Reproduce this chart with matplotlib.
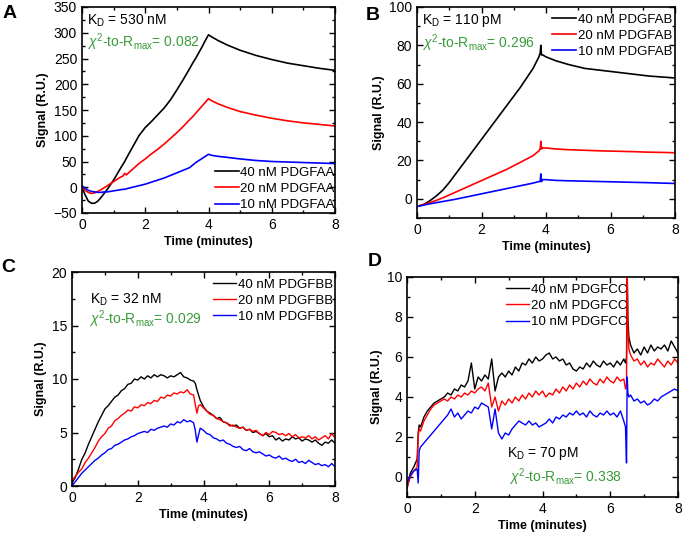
import matplotlib
matplotlib.use("Agg")
import matplotlib.pyplot as plt
from matplotlib.ticker import MultipleLocator

plt.rcParams['font.family'] = ['Liberation Sans', 'DejaVu Sans']
plt.rcParams['mathtext.fontset'] = 'custom'
plt.rcParams['mathtext.rm'] = 'Liberation Sans'
plt.rcParams['mathtext.it'] = 'Liberation Sans:italic'
plt.rcParams['mathtext.bf'] = 'Liberation Sans:bold'

# ---------------- Panel A data ----------------
tA = [0, 0.1, 0.2, 0.3, 0.4, 0.5, 0.6, 0.7, 0.8, 0.9, 1.0, 1.2, 1.3, 1.35, 1.4, 1.6, 1.8, 2.0, 2.2, 2.4,
      2.6, 2.8, 3.0, 3.2, 3.4, 3.5, 3.6, 3.8, 3.9, 4.0, 4.1, 4.3, 4.6, 5.0, 5.5, 6.0, 6.5, 7.0, 7.5, 8.0]
A40 = [0, -15, -27, -31, -31, -27, -20, -12, -4, 5, 14, 35, 45, 50, 56, 78, 100, 116, 128, 141,
       154, 170, 189, 209, 230, 241, 251, 273, 285, 296, 292, 285, 276, 266, 256, 248, 241, 236, 231, 227]
A20 = [0, -6, -10, -12, -11, -8, -5, -1, 3, 7, 11, 19, 22, 27, 24, 35, 46, 55, 65, 74,
       84, 95, 106, 118, 131, 137, 144, 158, 165, 172, 168, 162, 155, 147, 140, 134, 129, 125, 122, 119]
A10 = [3, -2, -6, -8, -9, -10, -10, -9, -9, -8, -7, -5, -4, -4, -3, 0, 3, 6, 10, 14,
       18, 23, 28, 33, 38, 43, 48, 56, 60, 64, 62, 60, 58, 55, 52, 50, 49, 48, 47, 46]
labelsA = ['40 nM PDGFAA', '20 nM PDGFAA', '10 nM PDGFAA']

# ---------------- Panel B data ----------------
tB = [0, 0.2, 0.4, 0.6, 0.8, 1.0, 1.2, 1.4, 1.6, 1.8, 2.0, 2.4, 2.8, 3.2, 3.6, 3.78, 3.82, 3.84, 3.86, 3.9,
      4.0, 4.3, 4.7, 5.2, 5.7, 6.2, 6.7, 7.2, 7.6, 8.0]
B40 = [-4, -3, -1, 1.5, 4.5, 8.5, 13, 17.5, 22, 26.5, 31, 40, 49, 58, 68, 74, 76, 80, 75, 75,
       74, 72, 70, 68, 67, 66, 65, 64, 63.5, 63]
B20 = [-4, -3, -2, -0.8, 0.5, 2, 3.5, 5, 6.5, 8, 9.5, 12.5, 15.5, 19, 22.5, 25, 26, 30, 26, 26.5,
       26.5, 26, 25.6, 25.3, 25, 24.8, 24.6, 24.3, 24.2, 24]
B10 = [-4, -3.3, -2.6, -2, -1.4, -0.8, -0.2, 0.5, 1.2, 1.9, 2.6, 4, 5.4, 6.8, 8.2, 9, 9, 13, 9, 10,
       10, 9.6, 9.4, 9.2, 9, 8.8, 8.6, 8.4, 8.2, 8]
labelsB = ['40 nM PDGFAB', '20 nM PDGFAB', '10 nM PDGFAB']

# ---------------- Panel C data ----------------
tC = [0.0, 0.1, 0.2, 0.3, 0.4, 0.5, 0.6, 0.7, 0.8, 0.9, 1.0, 1.1, 1.2, 1.3, 1.4, 1.5, 1.6, 1.7, 1.8, 1.9,
      2.0, 2.1, 2.2, 2.3, 2.4, 2.5, 2.6, 2.7, 2.8, 2.9, 3.0, 3.1, 3.2, 3.3, 3.4, 3.5, 3.6, 3.7, 3.75, 3.8,
      3.85, 3.9, 4.0, 4.1, 4.2, 4.3, 4.4, 4.5, 4.6, 4.7, 4.8, 4.9, 5.0, 5.1, 5.2, 5.3, 5.4, 5.5, 5.6, 5.7,
      5.8, 5.9, 6.0, 6.1, 6.2, 6.3, 6.4, 6.5, 6.6, 6.7, 6.8, 6.9, 7.0, 7.1, 7.2, 7.3, 7.4, 7.5, 7.6, 7.7,
      7.8, 7.9, 8.0]
C40 = [0.3, 0.8, 1.6, 2.5, 3.1, 3.9, 4.6, 5.3, 6.0, 6.6, 7.2, 7.5, 7.9, 8.3, 8.5, 8.9, 9.1, 9.5, 9.6, 10.0,
       9.9, 10.2, 10.0, 10.3, 10.1, 10.4, 10.2, 10.4, 10.3, 10.1, 10.3, 10.2, 10.4, 10.6, 10.2, 10.1, 9.9, 9.8, 9.6, 9.0,
       8.5, 8.0, 7.4, 7.0, 6.8, 6.6, 6.3, 6.4, 6.0, 5.9, 5.7, 5.6, 5.7, 5.4, 5.5, 5.2, 5.3, 5.0, 5.1, 4.9,
       4.7, 4.9, 4.6, 4.7, 4.3, 4.5, 4.2, 4.4, 4.3, 4.6, 4.4, 4.5, 4.2, 4.4, 4.3, 4.1, 4.3, 4.0, 3.8, 4.1,
       4.0, 4.3, 4.0]
C20 = [0.5, 0.9, 1.3, 1.6, 2.2, 2.6, 3.1, 3.6, 4.2, 4.6, 4.9, 5.4, 5.6, 6.1, 6.3, 6.6, 6.8, 7.1, 7.0, 7.4,
       7.3, 7.6, 7.5, 7.8, 7.7, 8.0, 7.9, 8.3, 8.2, 8.5, 8.4, 8.7, 8.6, 8.8, 8.7, 9.0, 8.6, 8.5, 7.6, 6.8,
       7.5, 7.6, 7.3, 7.0, 6.7, 6.6, 6.3, 6.2, 6.0, 5.9, 5.6, 5.7, 5.5, 5.4, 5.5, 5.2, 5.3, 5.1, 5.2, 4.9,
       4.7, 5.0, 4.8, 5.1, 5.0, 4.8, 4.9, 4.7, 4.9, 4.6, 4.8, 4.5, 4.6, 4.5, 4.7, 4.4, 4.6, 4.3, 4.5, 4.7,
       4.4, 4.9, 4.5]
C10 = [0.0, 0.4, 0.8, 1.2, 1.5, 1.8, 2.1, 2.4, 2.6, 2.9, 3.1, 3.4, 3.5, 3.8, 3.9, 4.1, 4.3, 4.4, 4.6, 4.7,
       4.9, 5.0, 5.1, 5.0, 5.3, 5.2, 5.4, 5.5, 5.6, 5.5, 5.8, 5.7, 6.0, 5.9, 6.2, 6.0, 6.1, 5.9, 5.2, 4.1,
       4.8, 5.4, 5.2, 4.9, 4.8, 4.5, 4.4, 4.2, 4.3, 4.0, 3.9, 3.7, 3.6, 3.7, 3.4, 3.3, 3.5, 3.2, 3.1, 3.2,
       3.0, 2.8, 2.9, 2.7, 2.6, 2.8, 2.5, 2.6, 2.4, 2.3, 2.5, 2.2, 2.3, 2.1, 2.4, 2.2, 2.0, 2.1, 1.9, 2.0,
       1.8, 2.1, 1.8]
labelsC = ['40 nM PDGFBB', '20 nM PDGFBB', '10 nM PDGFBB']

# ---------------- Panel D data ----------------
tD = [0.0, 0.1, 0.2, 0.3, 0.33, 0.36, 0.4, 0.5, 0.6, 0.7, 0.8, 0.9, 1.0, 1.1, 1.2, 1.3, 1.4, 1.5, 1.6, 1.7,
      1.8, 1.9, 2.0, 2.1, 2.2, 2.3, 2.4, 2.5, 2.6, 2.7, 2.8, 2.9, 3.0, 3.1, 3.2, 3.3, 3.4, 3.5, 3.6, 3.7,
      3.8, 3.9, 4.0, 4.1, 4.2, 4.3, 4.4, 4.5, 4.6, 4.7, 4.8, 4.9, 5.0, 5.1, 5.2, 5.3, 5.4, 5.5, 5.6, 5.7,
      5.8, 5.9, 6.0, 6.1, 6.2, 6.3, 6.4, 6.45, 6.48, 6.5, 6.52, 6.55, 6.6, 6.7, 6.8, 6.9, 7.0, 7.1, 7.2, 7.3,
      7.4, 7.5, 7.6, 7.7, 7.8, 7.9, 8.0]
D40 = [-0.6, 0.2, 0.5, 0.9, 2.2, 2.6, 2.5, 3.0, 3.3, 3.5, 3.7, 3.8, 3.9, 4.0, 4.2, 4.1, 4.4, 4.3, 4.6, 4.5,
       4.8, 5.7, 4.4, 5.0, 4.8, 5.1, 4.9, 5.9, 4.3, 5.0, 5.2, 5.0, 5.3, 5.1, 5.5, 5.3, 5.7, 5.6, 5.9, 5.7,
       6.0, 5.8, 5.9, 6.1, 6.2, 5.9, 6.0, 5.8, 5.9, 5.6, 5.7, 5.4, 5.3, 5.5, 5.4, 5.7, 5.5, 5.8, 5.6, 5.5,
       5.8, 5.6, 5.7, 5.5, 5.8, 5.6, 5.9, 5.7, 6.0, 10.5, 8.0, 7.0, 6.6, 6.2, 6.4, 6.1, 6.5, 6.2, 6.6, 6.3,
       6.5, 6.4, 6.6, 6.3, 6.8, 6.5, 6.2]
D20 = [-0.5, 0.0, 0.3, 0.5, 2.0, 2.4, 2.3, 2.8, 3.1, 3.4, 3.6, 3.7, 3.8, 3.9, 3.8, 4.0, 3.9, 4.1, 4.0, 4.2,
       4.1, 4.3, 4.2, 4.4, 4.5, 4.3, 4.7, 3.5, 4.0, 3.3, 3.8, 3.6, 3.9, 3.7, 4.0, 3.8, 4.1, 3.9, 4.2, 4.0,
       4.3, 4.1, 4.3, 4.0, 4.2, 4.1, 4.4, 4.2, 4.5, 4.3, 4.6, 4.4, 4.7, 4.5, 4.8, 4.6, 4.9, 4.7, 4.6, 4.9,
       4.7, 5.0, 4.8, 4.7, 5.0, 4.8, 4.9, 4.4, 4.6, 10.0, 7.5, 6.4, 6.1, 5.8, 5.9, 5.6, 5.8, 5.5, 5.7, 5.6,
       5.9, 5.7, 5.5, 5.8, 5.6, 5.9, 5.7]
D10 = [-0.3, 0.1, 0.3, 0.4, -0.3, 1.3, 1.5, 1.7, 1.9, 2.1, 2.3, 2.5, 2.7, 2.9, 3.1, 3.4, 3.0, 3.2, 2.9, 3.1,
       3.3, 3.2, 3.5, 3.4, 3.7, 3.6, 3.5, 2.4, 3.4, 2.2, 1.9, 2.2, 2.1, 2.4, 2.6, 2.8, 2.7, 2.6, 2.8, 2.6,
       2.7, 2.5, 2.6, 2.7, 2.9, 2.7, 3.0, 2.9, 3.1, 3.0, 3.2, 3.1, 3.3, 3.1, 3.2, 3.0, 3.3, 3.1, 3.0, 3.2,
       3.1, 3.3, 3.1, 3.2, 3.0, 3.3, 2.8, 2.5, 0.7, 5.0, 4.2, 4.0, 4.1, 3.8, 3.9, 3.7, 3.8, 3.6, 3.7, 3.9,
       3.8, 4.0, 4.1, 4.2, 4.3, 4.4, 4.3]
labelsD = ['40 nM PDGFCC', '20 nM PDGFCC', '10 nM PDGFCC']

COLORS = ['#000000', '#ff0000', '#0000ff']
GREEN = '#3a9a3a'
W, H = 685, 538

fig = plt.figure(figsize=(W / 100, H / 100), dpi=100)


def px_axes(left, top, right, bottom):
    return fig.add_axes([left / W, (H - bottom) / H, (right - left) / W, (bottom - top) / H])


def style(ax, ylim, ymaj, ymin):
    ax.set_xlim(0, 8)
    ax.set_ylim(*ylim)
    ax.xaxis.set_major_locator(MultipleLocator(2))
    ax.xaxis.set_minor_locator(MultipleLocator(1))
    ax.yaxis.set_major_locator(MultipleLocator(ymaj))
    ax.yaxis.set_minor_locator(MultipleLocator(ymin))
    ax.tick_params(which='both', direction='in', top=True, right=True, labelsize=10, width=1.0)
    ax.tick_params(which='major', length=4)
    ax.tick_params(which='minor', length=2)
    for s in ax.spines.values():
        s.set_linewidth(1.2)
    ax.set_xlabel('Time (minutes)', fontsize=9, fontweight='bold', labelpad=3)
    ax.set_ylabel('Signal (R.U.)', fontsize=9, fontweight='bold', labelpad=3)


def legend(ax, handles, labels, anchor):
    ax.legend(handles, labels, loc='upper right', bbox_to_anchor=anchor, frameon=False,
              fontsize=9.5, handlelength=1.8, handletextpad=0.15, labelspacing=0.3,
              borderpad=0, borderaxespad=0)


# Panel A
axA = px_axes(82, 7, 335, 213)
hA = [axA.plot(tA, y, color=c, lw=1.2)[0] for y, c in zip([A40, A20, A10], COLORS)]
style(axA, (-50, 350), 50, 25)
legend(axA, hA, labelsA, (1.0, 0.225))
axA.text(0.02, 0.935, r'K$_\mathregular{D}$ = 530 nM', transform=axA.transAxes, fontsize=10, va='center')
axA.text(0.02, 0.83, r'$\chi^\mathregular{2}$-to-R$_\mathregular{max}$= 0.082', transform=axA.transAxes,
         fontsize=10, va='center', color=GREEN)

# Panel B
axB = px_axes(417, 7, 675, 218)
hB = [axB.plot(tB, y, color=c, lw=1.2)[0] for y, c in zip([B40, B20, B10], COLORS)]
style(axB, (-10, 100), 20, 10)
legend(axB, hB, labelsB, (0.99, 0.97))
axB.text(0.02, 0.935, r'K$_\mathregular{D}$ = 110 pM', transform=axB.transAxes, fontsize=10, va='center')
axB.text(0.02, 0.83, r'$\chi^\mathregular{2}$-to-R$_\mathregular{max}$= 0.296', transform=axB.transAxes,
         fontsize=10, va='center', color=GREEN)

# Panel C
axC = px_axes(72, 272, 335, 486)
hC = [axC.plot(tC, y, color=c, lw=1.0)[0] for y, c in zip([C40, C20, C10], COLORS)]
style(axC, (0, 20), 5, 2.5)
legend(axC, hC, labelsC, (0.995, 0.97))
axC.text(0.07, 0.87, r'K$_\mathregular{D}$ = 32 nM', transform=axC.transAxes, fontsize=10, va='center')
axC.text(0.065, 0.78, r'$\chi^\mathregular{2}$-to-R$_\mathregular{max}$= 0.029', transform=axC.transAxes,
         fontsize=10, va='center', color=GREEN)

# Panel D
axD = px_axes(407, 277, 678, 497)
hD = [axD.plot(tD, y, color=c, lw=1.0)[0] for y, c in zip([D40, D20, D10], COLORS)]
style(axD, (-1, 10), 2, 1)
legend(axD, hD, labelsD, (0.815, 0.97))
axD.text(0.37, 0.2, r'K$_\mathregular{D}$ = 70 pM', transform=axD.transAxes, fontsize=10, va='center')
axD.text(0.375, 0.09, r'$\chi^\mathregular{2}$-to-R$_\mathregular{max}$= 0.338', transform=axD.transAxes,
         fontsize=10, va='center', color=GREEN)

# Panel letters
for letter, (x, y) in zip('ABCD', [(10, 14), (373, 15), (8, 267), (375, 262)]):
    fig.text(x / W, 1 - y / H, letter, fontsize=14, fontweight='bold', ha='center', va='center')

fig.savefig('out.png', dpi=100)
